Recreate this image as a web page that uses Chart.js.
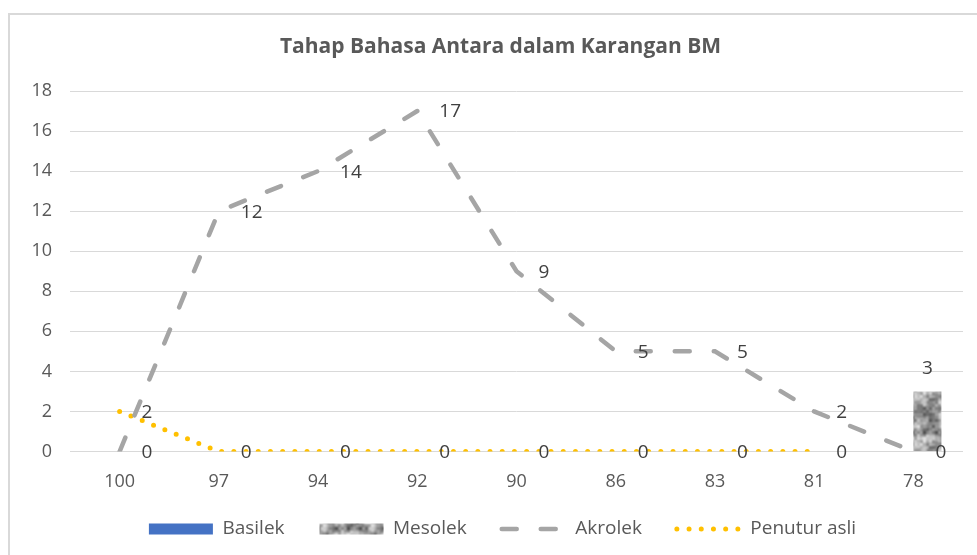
<!DOCTYPE html>
<html>
<head>
<meta charset="utf-8">
<script src="https://cdn.jsdelivr.net/npm/chart.js@4.4.1/dist/chart.umd.min.js"></script>
<style>
  html, body { margin: 0; padding: 0; background: #ffffff; }
  #wrap { width: 977px; height: 555px; position: relative; }
</style>
</head>
<body>
<div id="wrap"><canvas id="c" width="977" height="555"></canvas></div>
<script>
// ---- data ----
const chartTitle = 'Tahap Bahasa Antara dalam Karangan BM';
const categories = ['100', '97', '94', '92', '90', '86', '83', '81', '78'];
const seriesNames = ['Basilek', 'Mesolek', 'Akrolek', 'Penutur asli'];
const basilek = [0, 0, 0, 0, 0, 0, 0, 0, 0];
const mesolek = [0, 0, 0, 0, 0, 0, 0, 0, 3];
const akrolek = [0, 12, 14, 17, 9, 5, 5, 2, 0];
const penuturAsli = [2, 0, 0, 0, 0, 0, 0, 0, null];
const yMin = 0, yMax = 18, yStep = 2;

// ---- grey texture for Mesolek (deterministic value noise) ----
function hash(x, y) {
  let h = (x * 374761393 + y * 668265263) | 0;
  h = Math.imul(h ^ (h >>> 13), 1274126177);
  h = h ^ (h >>> 16);
  return (h >>> 0) / 4294967295;
}
function smooth(t) { return t * t * (3 - 2 * t); }
function makeTexture() {
  const size = 48, cell = 6;
  const cv = document.createElement('canvas');
  cv.width = size; cv.height = size;
  const c = cv.getContext('2d');
  const img = c.createImageData(size, size);
  for (let y = 0; y < size; y++) {
    for (let x = 0; x < size; x++) {
      let v = 0, amp = 0.65, tot = 0;
      for (let o = 0; o < 2; o++) {
        const cs = cell / (o + 1), nn = size / cs;
        const gx = x / cs, gy = y / cs;
        const x0 = Math.floor(gx), y0 = Math.floor(gy);
        const fx = smooth(gx - x0), fy = smooth(gy - y0);
        const a = hash(x0 % nn + o * 97, y0 % nn), b = hash((x0 + 1) % nn + o * 97, y0 % nn);
        const d = hash(x0 % nn + o * 97, (y0 + 1) % nn), e = hash((x0 + 1) % nn + o * 97, (y0 + 1) % nn);
        v += amp * ((a * (1 - fx) + b * fx) * (1 - fy) + (d * (1 - fx) + e * fx) * fy);
        tot += amp; amp = 0.35;
      }
      v /= tot;
      const g = Math.round(80 + v * 165);
      const k = (y * size + x) * 4;
      img.data[k] = g; img.data[k + 1] = g; img.data[k + 2] = g; img.data[k + 3] = 255;
    }
  }
  c.putImageData(img, 0, 0);
  return c.createPattern(cv, 'repeat');
}
const mesolekFill = makeTexture();

const TXT = '#595959';
const FONT = '"Open Sans", "Liberation Sans", sans-serif';

const frame = {
  id: 'frame',
  beforeDraw(chart) {
    // shift title / legend to match reference centring, extend x-label clip area
    if (!chart.$shifted) {
      chart.$shifted = true;
      if (chart.titleBlock) { chart.titleBlock.left += 15; chart.titleBlock.right += 15; }
      if (chart.legend) {
        chart.legend.left += 17; chart.legend.right += 17;
        chart.legend.top += 2; chart.legend.bottom += 2;
      }
    }
    const xs = chart.scales.x;
    xs.bottom = xs.top + 50;
    const ctx = chart.ctx;
    ctx.save();
    ctx.fillStyle = '#ffffff';
    ctx.fillRect(0, 0, chart.width, chart.height);
    ctx.strokeStyle = '#D9D9D9';
    ctx.lineWidth = 2;
    ctx.strokeRect(9, 14, 1100, 700);
    ctx.restore();
  }
};

const valueLabels = {
  id: 'valueLabels',
  afterDatasetsDraw(chart) {
    const ctx = chart.ctx;
    ctx.save();
    ctx.font = '19px ' + FONT;
    ctx.fillStyle = '#404040';
    ctx.textBaseline = 'middle';
    chart.data.datasets.forEach((ds, i) => {
      const meta = chart.getDatasetMeta(i);
      meta.data.forEach((el, j) => {
        const v = ds.data[j];
        if (v === null || v === undefined) return;
        if (ds.type === 'line') {
          ctx.textAlign = 'left';
          ctx.fillText(String(v), el.x + 22, el.y + 1);
        } else if (v !== 0) {
          ctx.textAlign = 'center';
          ctx.fillText(String(v), el.x, el.y - 23);
        }
      });
    });
    ctx.restore();
  }
};

new Chart(document.getElementById('c'), {
  type: 'bar',
  data: {
    labels: categories,
    datasets: [
      { label: seriesNames[0], data: basilek, backgroundColor: '#4472C4', borderWidth: 0,
        categoryPercentage: 0.565, barPercentage: 1 },
      { label: seriesNames[1], data: mesolek, backgroundColor: mesolekFill, borderWidth: 0,
        categoryPercentage: 0.565, barPercentage: 1 },
      { type: 'line', label: seriesNames[2], data: akrolek, borderColor: '#A5A5A5',
        borderWidth: 4.5, borderDash: [15, 24], borderCapStyle: 'round', pointRadius: 0,
        fill: false, tension: 0 },
      { type: 'line', label: seriesNames[3], data: penuturAsli, borderColor: '#FFC000',
        borderWidth: 5, borderDash: [0, 12.2], borderCapStyle: 'round', pointRadius: 0,
        fill: false, tension: 0 }
    ]
  },
  options: {
    responsive: false,
    devicePixelRatio: 1,
    animation: false,
    layout: { padding: { left: 8, right: 14, top: 0, bottom: 8.5 } },
    scales: {
      x: {
        grid: { display: false },
        border: { display: false },
        ticks: { color: TXT, font: { family: FONT, size: 18 }, padding: 12 },
        afterFit(scale) { scale.height = 31; }
      },
      y: {
        min: yMin, max: yMax,
        grid: { color: '#D9D9D9', lineWidth: 1, drawTicks: false },
        border: { display: false },
        ticks: { stepSize: yStep, color: TXT, font: { family: FONT, size: 18 }, padding: 18 },
        afterFit(scale) { scale.width = 62; }
      }
    },
    plugins: {
      title: {
        display: true, text: chartTitle, color: TXT,
        font: { family: FONT, size: 21, weight: 'bold' },
        padding: { top: 34, bottom: 31.8 }
      },
      legend: {
        position: 'bottom',
        labels: {
          usePointStyle: true, pointStyleWidth: 64, boxHeight: 11, padding: 35,
          color: TXT, font: { family: FONT, size: 19 },
          generateLabels(chart) {
            return chart.data.datasets.map((ds, i) => {
              const isLine = ds.type === 'line';
              return {
                text: ds.label, datasetIndex: i, hidden: false, fontColor: TXT,
                fillStyle: isLine ? 'rgba(0,0,0,0)' : ds.backgroundColor,
                strokeStyle: isLine ? ds.borderColor : ds.backgroundColor,
                lineWidth: isLine ? ds.borderWidth : 0,
                lineDash: isLine ? ds.borderDash : [],
                lineCap: isLine ? 'round' : 'butt',
                pointStyle: isLine ? 'line' : 'rect'
              };
            });
          }
        }
      },
      tooltip: { enabled: false }
    }
  },
  plugins: [frame, valueLabels]
});
</script>
</body>
</html>
